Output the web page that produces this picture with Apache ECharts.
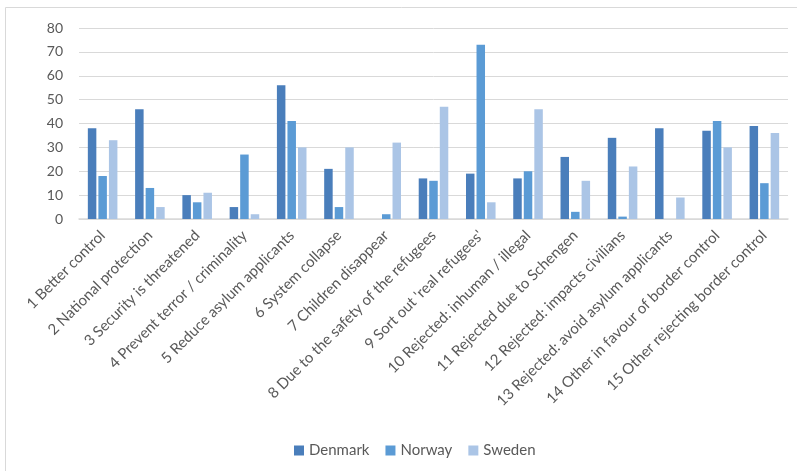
<!DOCTYPE html>
<html>
<head>
<meta charset="utf-8">
<script src="https://cdn.jsdelivr.net/npm/echarts@6/dist/echarts.min.js"></script>
<style>
  html, body { margin: 0; padding: 0; background: #fff; }
  #chart { width: 797px; height: 471px; }
</style>
</head>
<body>
<div id="chart"></div>
<script>
const categories = [
  "1 Better control",
  "2 National protection",
  "3 Security is threatened",
  "4 Prevent terror / criminality",
  "5 Reduce asylum applicants",
  "6 System collapse",
  "7 Children disappear",
  "8 Due to the safety of the refugees",
  "9 Sort out 'real refugees'",
  "10 Rejected: inhuman / illegal",
  "11 Rejected due to Schengen",
  "12 Rejected: impacts civilians",
  "13 Rejected: avoid asylum applicants",
  "14 Other in favour of border control",
  "15 Other rejecting border control"
];
const denmark = [38, 46, 10, 5, 56, 21, 0, 17, 19, 17, 26, 34, 38, 37, 39];
const norway = [18, 13, 7, 27, 41, 5, 2, 16, 73, 20, 3, 1, 0, 41, 15];
const sweden = [33, 5, 11, 2, 30, 30, 32, 47, 7, 46, 16, 22, 9, 30, 36];

const font = "Lato, 'Open Sans', sans-serif";
const textColor = "#595959";

const chart = echarts.init(document.getElementById("chart"));

const barStyle = (name, color, data) => ({
  name,
  type: "bar",
  data,
  barWidth: 8.5,
  barGap: "24%",
  itemStyle: { color },
  emphasis: { disabled: true },
});

chart.setOption({
  animation: false,
  textStyle: { fontFamily: font },
  graphic: [
    {
      type: "rect",
      shape: { x: 5.5, y: 7.5, width: 820, height: 500 },
      style: { fill: "none", stroke: "#d9d9d9", lineWidth: 1 },
      silent: true,
    },
  ],
  grid: { left: 79, right: 9, top: 28, bottom: 252, containLabel: false },
  legend: {
    bottom: 8,
    left: 289,
    icon: "rect",
    itemWidth: 10,
    itemHeight: 10,
    itemGap: 16,
    textStyle: { color: textColor, fontSize: 15, fontFamily: font },
    data: ["Denmark", "Norway", "Sweden"],
  },
  xAxis: {
    type: "category",
    data: categories,
    axisTick: { show: false },
    axisLine: { lineStyle: { color: "#d9d9d9", width: 1.5 } },
    axisLabel: {
      rotate: 45,
      interval: 0,
      margin: 14,
      color: textColor,
      fontSize: 15,
      fontFamily: font,
    },
  },
  yAxis: {
    type: "value",
    min: 0,
    max: 80,
    interval: 10,
    axisLine: { show: false },
    axisTick: { show: false },
    splitLine: { lineStyle: { color: "#d9d9d9", width: 1 } },
    axisLabel: { color: textColor, fontSize: 14, margin: 16, fontFamily: font },
  },
  series: [
    barStyle("Denmark", "#4a7ebb", denmark),
    barStyle("Norway", "#5b9bd5", norway),
    barStyle("Sweden", "#abc5e6", sweden),
  ],
});
</script>
</body>
</html>
